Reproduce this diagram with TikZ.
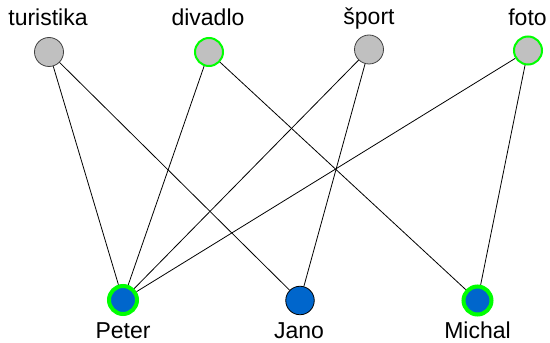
\documentclass[tikz,border=0pt]{standalone}
\usepackage{fontspec}
\setmainfont{Liberation Sans}
\definecolor{gfill}{RGB}{192,192,192}
\definecolor{gline}{RGB}{64,64,64}
\definecolor{bfill}{RGB}{0,102,204}
\definecolor{hgreen}{RGB}{0,255,0}
\tikzset{
  hobby/.style={circle, fill=gfill, draw=gline, line width=0.8pt, minimum size=29pt, inner sep=0pt},
  hobbyg/.style={circle, fill=gfill, draw=hgreen, line width=2pt, minimum size=28pt, inner sep=0pt},
  person/.style={circle, fill=bfill, draw=black, line width=0.8pt, minimum size=28.5pt, inner sep=0pt},
  persong/.style={circle, fill=bfill, draw=hgreen, line width=4pt, minimum size=28pt, inner sep=0pt},
  lbl/.style={anchor=base, inner sep=0pt, font=\fontsize{23}{27}\selectfont},
  edge/.style={draw=black, line width=0.8pt}
}
\begin{document}
\begin{tikzpicture}[x=1pt,y=1pt]
\useasboundingbox (0,0) rectangle (550,343);
\node[hobby]  (tur) at (49,291) {};
\node[hobbyg] (div) at (209,291) {};
\node[hobby]  (spo) at (369,293.5) {};
\node[hobbyg] (fot) at (528,292.5) {};
\node[persong] (pet) at (123,43) {};
\node[person]  (jan) at (300,42.5) {};
\node[persong] (mic) at (477.5,42.5) {};
\node[lbl] (ltur) at (48,317) {turistika};
\node[lbl] (ldiv) at (208,317) {divadlo};
\node[lbl] (lspo) at (369,318.5) {šport};
\node[lbl] (lfot) at (527.5,317) {foto};
\node[lbl] (lpet) at (123,4) {Peter};
\node[lbl] (ljan) at (299,4.5) {Jano};
\node[lbl] (lmic) at (477.5,4) {Michal};
\draw[edge] (tur) -- (pet);
\draw[edge] (tur) -- (jan);
\draw[edge] (div) -- (pet);
\draw[edge] (div) -- (mic);
\draw[edge] (spo) -- (pet);
\draw[edge] (spo) -- (jan);
\draw[edge] (fot) -- (pet);
\draw[edge] (fot) -- (mic);
\end{tikzpicture}
\end{document}
